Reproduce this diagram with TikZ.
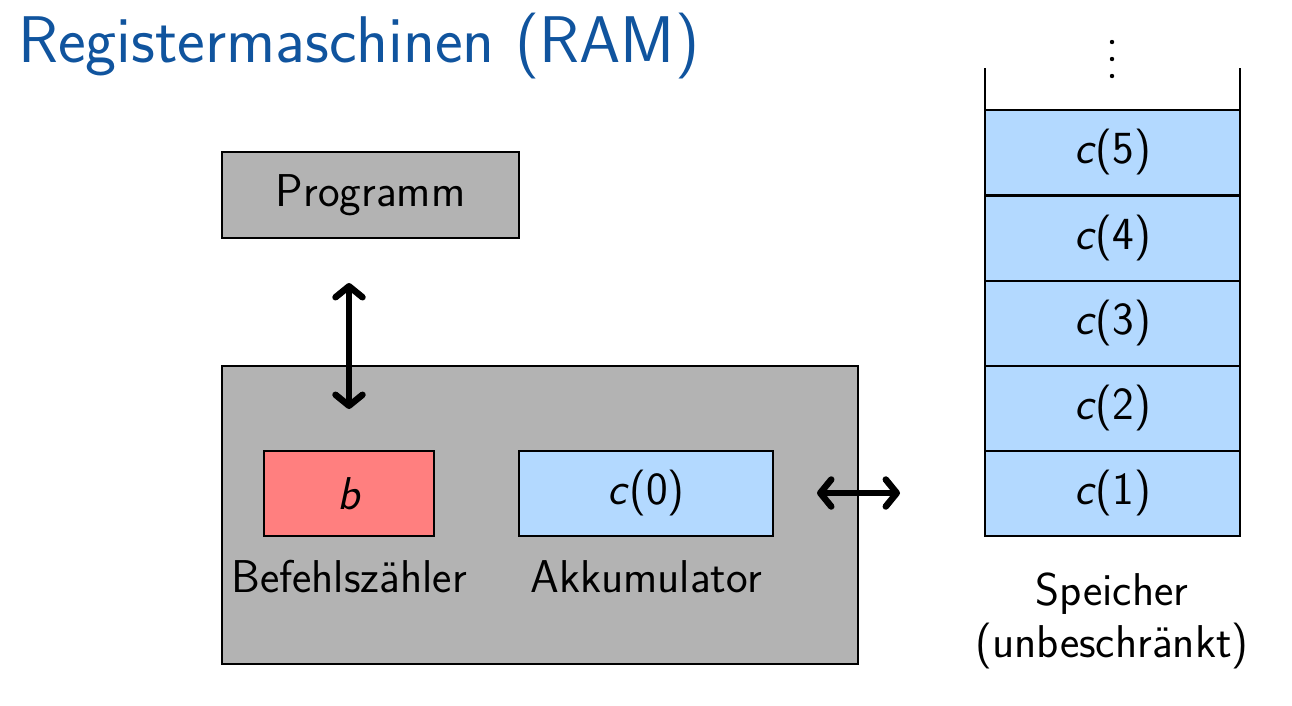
\documentclass[tikz,border=0pt]{standalone}
\usetikzlibrary{arrows.meta}
\definecolor{titleblue}{RGB}{16,84,158}
\definecolor{boxgray}{RGB}{179,179,179}
\definecolor{regred}{RGB}{255,127,127}
\definecolor{memblue}{RGB}{179,217,255}
\newcommand{\bodyfont}{\fontsize{46}{54}\selectfont\sffamily}
\begin{document}
\begin{tikzpicture}[x=1pt,y=-1pt,
  box/.style={draw=black,line width=1.3pt},
  cell/.style={box,fill=memblue},
  lbl/.style={font=\bodyfont,inner sep=0pt},
  bigarrow/.style={line width=6.5pt,{Straight Barb[length=11pt,width=27pt,round]}-{Straight Barb[length=11pt,width=27pt,round]}}]
\useasboundingbox (0,0) rectangle (1292,705);
\node[anchor=base west,inner sep=0pt,text=titleblue,font=\fontsize{66}{74}\selectfont\sffamily] (title) at (18,62) {Registermaschinen (RAM)};
% program
\draw[box,fill=boxgray] (222,152) rectangle (519,238);
\node[lbl] (prog) at (370.5,195) {Programm};
% cpu
\draw[box,fill=boxgray] (222,366) rectangle (858,664);
\draw[box,fill=regred] (264,451) rectangle (434,536);
\node[lbl] (b) at (349,493.5) {\itshape b};
\draw[box,fill=memblue] (519,451) rectangle (773,536);
\node[lbl] (c0) at (646,493.5) {\textit{c}(0)};
\node[lbl,anchor=base] (bz) at (349,592) {Befehlsz\"ahler};
\node[lbl,anchor=base] (ak) at (646,592) {Akkumulator};
\coordinate (pa) at (349,283);
\coordinate (pb) at (349,409);
\draw[bigarrow] (pa) -- (pb);
\coordinate (ha) at (817,493);
\coordinate (hb) at (900,493);
\draw[bigarrow] (ha) -- (hb);
% memory
\foreach \i/\y in {1/451,2/366,3/281,4/196,5/110}{
  \draw[cell] (985,\y) rectangle (1240,\y+85);
  \node[lbl] (m\i) at (1112.5,\y+42.5) {\textit{c}(\i)};
}
\draw[line width=1.3pt] (985,68) -- (985,110);
\draw[line width=2pt] (1240,68) -- (1240,536);
\foreach \y in {42,59,76}{\fill (1112,\y) circle (2.2);}
\node[lbl,anchor=base] (sp) at (1112,605) {Speicher};
\node[lbl,anchor=base] (ub) at (1112,657) {(unbeschr\"ankt)};
\end{tikzpicture}
\end{document}
